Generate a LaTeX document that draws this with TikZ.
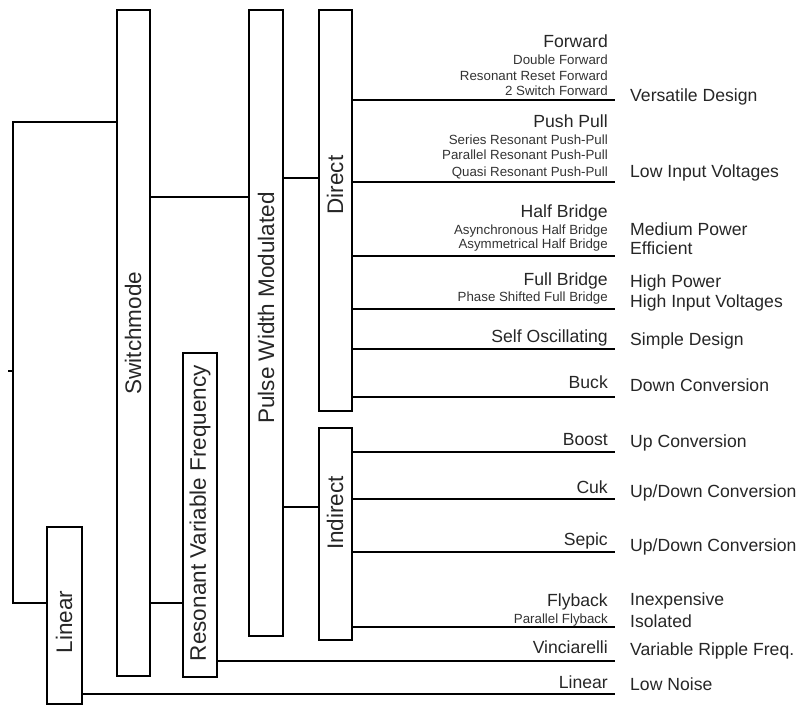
\documentclass[tikz,border=0pt]{standalone}
\usepackage{fontspec}
\setmainfont{Liberation Sans}
\begin{document}
\begin{tikzpicture}[x=1pt,y=-1pt,
  box/.style={draw, line width=1.5pt, inner sep=0pt},
  conn/.style={line width=1.5pt},
  vlab/.style={rotate=90, inner sep=0pt, font=\fontsize{22.5}{24}\selectfont, text=black!85},
  main/.style={anchor=base east, inner sep=0pt, font=\fontsize{17.6}{20}\selectfont, text=black!85},
  sub/.style={anchor=base east, inner sep=0pt, font=\fontsize{13.3}{15}\selectfont, text=black!80},
  note/.style={anchor=base west, inner sep=0pt, font=\fontsize{17.6}{20}\selectfont, text=black!85}]
\useasboundingbox (0,0) rectangle (809,706);
% boxes
\node[box, minimum width=33pt, minimum height=666pt] (SW) at (133.5,343) {};
\node[box, minimum width=34pt, minimum height=626pt] (PWM) at (266,323) {};
\node[box, minimum width=33pt, minimum height=401pt] (DIR) at (335.5,210.5) {};
\node[box, minimum width=33pt, minimum height=212pt] (IND) at (335.5,534) {};
\node[box, minimum width=34pt, minimum height=324pt] (RES) at (200,515) {};
\node[box, minimum width=35pt, minimum height=177pt] (LIN) at (64.5,615.5) {};
% box labels
\node[vlab] (tSW) at (133,333) {Switchmode};
\node[vlab] (tPWM) at (266,308) {Pulse Width Modulated};
\node[vlab] (tDIR) at (335,185) {Direct};
\node[vlab] (tIND) at (335,513) {Indirect};
\node[vlab] (tRES) at (200,513) {Resonant Variable Frequency};
\node[vlab] (tLIN) at (64,622) {Linear};
% tree connectors
\coordinate (rt) at (13,122);
\coordinate (rb) at (13,603);
\coordinate (tick) at (8,371);
\coordinate (tk) at (13,371);
\draw[conn] (SW.west |- rt) -- (rt) -- (rb) -- (LIN.west |- rb);
\draw[conn] (tick) -- (tk);
\coordinate (c1) at (0,197);
\draw[conn] (SW.east |- c1) -- (PWM.west |- c1);
\draw[conn] (SW.east |- rb) -- (RES.west |- rb);
\coordinate (c2) at (0,178);
\draw[conn] (PWM.east |- c2) -- (DIR.west |- c2);
\coordinate (c3) at (0,507);
\draw[conn] (PWM.east |- c3) -- (IND.west |- c3);
% output line ends
\coordinate (e1) at (615,100);
\coordinate (e2) at (615,182);
\coordinate (e3) at (615,256);
\coordinate (e4) at (615,309);
\coordinate (e5) at (615,349);
\coordinate (e6) at (615,397);
\coordinate (e7) at (615,452);
\coordinate (e8) at (615,499);
\coordinate (e9) at (615,552);
\coordinate (e10) at (615,627);
\coordinate (e11) at (615,661);
\coordinate (e12) at (615,694);
\foreach \e in {e1,e2,e3,e4,e5,e6} \draw[conn] (DIR.east |- \e) -- (\e);
\foreach \e in {e7,e8,e9,e10} \draw[conn] (IND.east |- \e) -- (\e);
\draw[conn] (RES.east |- e11) -- (e11);
\draw[conn] (LIN.east |- e12) -- (e12);
% topology labels
\node[main] (fw) at (608,48) {Forward};
\node[sub] (fw1) at (608,65) {Double Forward};
\node[sub] (fw2) at (608,81) {Resonant Reset Forward};
\node[sub] (fw3) at (608,96) {2 Switch Forward};
\node[main] (pp) at (608,128) {Push Pull};
\node[sub] (pp1) at (608,145) {Series Resonant Push-Pull};
\node[sub] (pp2) at (608,160) {Parallel Resonant Push-Pull};
\node[sub] (pp3) at (608,176) {Quasi Resonant Push-Pull};
\node[main] (hb) at (608,217) {Half Bridge};
\node[sub] (hb1) at (608,234) {Asynchronous Half Bridge};
\node[sub] (hb2) at (608,248) {Asymmetrical Half Bridge};
\node[main] (fb) at (608,285) {Full Bridge};
\node[sub] (fb1) at (608,301) {Phase Shifted Full Bridge};
\node[main] (so) at (608,342) {Self Oscillating};
\node[main] (bk) at (608,388) {Buck};
\node[main] (bo) at (608,445) {Boost};
\node[main] (ck) at (608,493) {Cuk};
\node[main] (sp) at (608,545) {Sepic};
\node[main] (fl) at (608,606) {Flyback};
\node[sub] (fl1) at (608,623) {Parallel Flyback};
\node[main] (vi) at (608,653) {Vinciarelli};
\node[main] (li) at (608,688) {Linear};
% property notes
\node[note] (n1) at (630,102) {Versatile Design};
\node[note] (n2) at (630,178) {Low Input Voltages};
\node[note] (n3) at (630,235) {Medium Power};
\node[note] (n4) at (630,254) {Efficient};
\node[note] (n5) at (630,287) {High Power};
\node[note] (n6) at (630,307) {High Input Voltages};
\node[note] (n7) at (630,345) {Simple Design};
\node[note] (n8) at (630,391) {Down Conversion};
\node[note] (n9) at (630,447) {Up Conversion};
\node[note] (n10) at (630,497) {Up/Down Conversion};
\node[note] (n11) at (630,551) {Up/Down Conversion};
\node[note] (n12) at (630,605) {Inexpensive};
\node[note] (n13) at (630,627) {Isolated};
\node[note] (n14) at (630,655) {Variable Ripple Freq.};
\node[note] (n15) at (630,690) {Low Noise};
\end{tikzpicture}
\end{document}
